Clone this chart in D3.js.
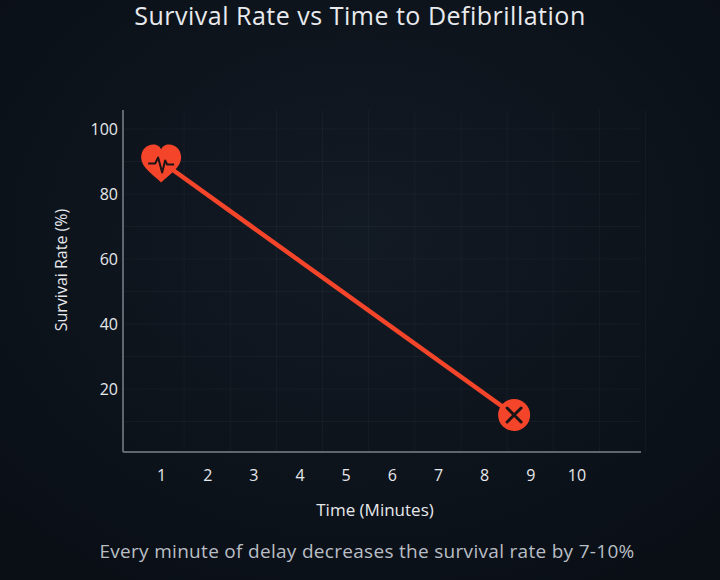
<!DOCTYPE html>
<html><head><meta charset="utf-8">
<script src="https://cdn.jsdelivr.net/npm/d3@7"></script>
<style>
body{margin:0;background:#0d131b;}
svg{display:block;font-family:"Open Sans",sans-serif;}
</style></head>
<body><svg id="chart" width="720" height="580"></svg>
<script>
var minutes = [1, 8.65];
var survival = [90, 12];
var xTicks = [1, 2, 3, 4, 5, 6, 7, 8, 9, 10];
var yTicks = [20, 40, 60, 80, 100];

var svg = d3.select("#chart");
var defs = svg.append("defs");
var bg = defs.append("radialGradient").attr("id", "bg").attr("cx", "50%").attr("cy", "40%").attr("r", "70%");
bg.append("stop").attr("offset", "0%").attr("stop-color", "#121a24");
bg.append("stop").attr("offset", "100%").attr("stop-color", "#0a0f16");
svg.append("rect").attr("width", 720).attr("height", 580).attr("fill", "url(#bg)");

var x = d3.scaleLinear().domain([0, 11.4]).range([115, 641]);
var y = d3.scaleLinear().domain([0, 100]).range([454, 129]);

// faint grid
svg.append("g").selectAll("line").data(xTicks.concat([11])).enter().append("line")
    .attr("x1", function(d) { return x(d) + 23; }).attr("x2", function(d) { return x(d) + 23; })
    .attr("y1", 110).attr("y2", 452).attr("stroke", "#ffffff").attr("stroke-opacity", 0.035);
svg.append("g").selectAll("line").data(yTicks.concat([10, 30, 50, 70, 90])).enter().append("line")
    .attr("x1", 123).attr("x2", 641)
    .attr("y1", function(d) { return y(d); }).attr("y2", function(d) { return y(d); })
    .attr("stroke", "#ffffff").attr("stroke-opacity", 0.035);

// axes lines
svg.append("line").attr("x1", 123).attr("x2", 123).attr("y1", 110).attr("y2", 452)
    .attr("stroke", "#5f6670").attr("stroke-width", 2);
svg.append("line").attr("x1", 123).attr("x2", 641).attr("y1", 452).attr("y2", 452)
    .attr("stroke", "#5f6670").attr("stroke-width", 2);

var xAxis = svg.append("g").attr("transform", "translate(0,462)")
    .call(d3.axisBottom(x).tickValues(xTicks).tickSize(0).tickPadding(8));
var yAxis = svg.append("g").attr("transform", "translate(120,0)")
    .call(d3.axisLeft(y).tickValues(yTicks).tickSize(0).tickPadding(2));
[xAxis, yAxis].forEach(function(a) {
    a.select(".domain").remove();
    a.selectAll("text").attr("fill", "#e6e8eb").style("font-size", "16px").style("font-family", "Open Sans");
});

// line
svg.append("path")
    .datum(d3.zip(minutes, survival))
    .attr("d", d3.line().x(function(d) { return x(d[0]); }).y(function(d) { return y(d[1]); }))
    .attr("fill", "none").attr("stroke", "#f4452b").attr("stroke-width", 4.5);

// heart marker
var hx = x(minutes[0]), hy = y(survival[0]) + 3;
var heart = svg.append("g").attr("transform", "translate(" + hx + "," + hy + ")");
heart.append("path")
    .attr("d", "M0,18 C-8,10 -20,3 -20,-7 C-20,-15 -14,-20 -8,-20 C-4,-20 -1,-18 0,-15 C1,-18 4,-20 8,-20 C14,-20 20,-15 20,-7 C20,3 8,10 0,18 Z")
    .attr("fill", "#f4452b");
heart.append("path")
    .attr("d", "M-13,-1 L-6,-1 L-3,-7 L1,8 L4,-4 L6,0 L13,0")
    .attr("fill", "none").attr("stroke", "#1a1416").attr("stroke-width", 2).attr("stroke-linejoin", "round");

// X marker
var ex = x(minutes[1]), ey = y(survival[1]);
var endMark = svg.append("g").attr("transform", "translate(" + ex + "," + ey + ")");
endMark.append("circle").attr("r", 16).attr("fill", "#f4452b");
endMark.append("path").attr("d", "M-7,-7 L7,7 M7,-7 L-7,7")
    .attr("stroke", "#1a1416").attr("stroke-width", 3).attr("stroke-linecap", "round");

// texts
svg.append("text").attr("x", 360).attr("y", 25).attr("text-anchor", "middle")
    .attr("fill", "#e8eaed").style("font-size", "25px").style("letter-spacing", "0.5px")
    .text("Survival Rate vs Time to Defibrillation");
svg.append("text").attr("transform", "translate(67,270) rotate(-90)").attr("text-anchor", "middle")
    .attr("fill", "#e6e8eb").style("font-size", "16px").text("Survivai Rate (%)");
svg.append("text").attr("x", 375).attr("y", 516).attr("text-anchor", "middle")
    .attr("fill", "#e6e8eb").style("font-size", "17px").text("Time (Minutes)");
svg.append("text").attr("x", 367).attr("y", 558).attr("text-anchor", "middle")
    .attr("fill", "#b9bec5").style("font-size", "19px").style("letter-spacing", "0.3px")
    .text("Every minute of delay decreases the survival rate by 7-10%");
</script></body></html>
